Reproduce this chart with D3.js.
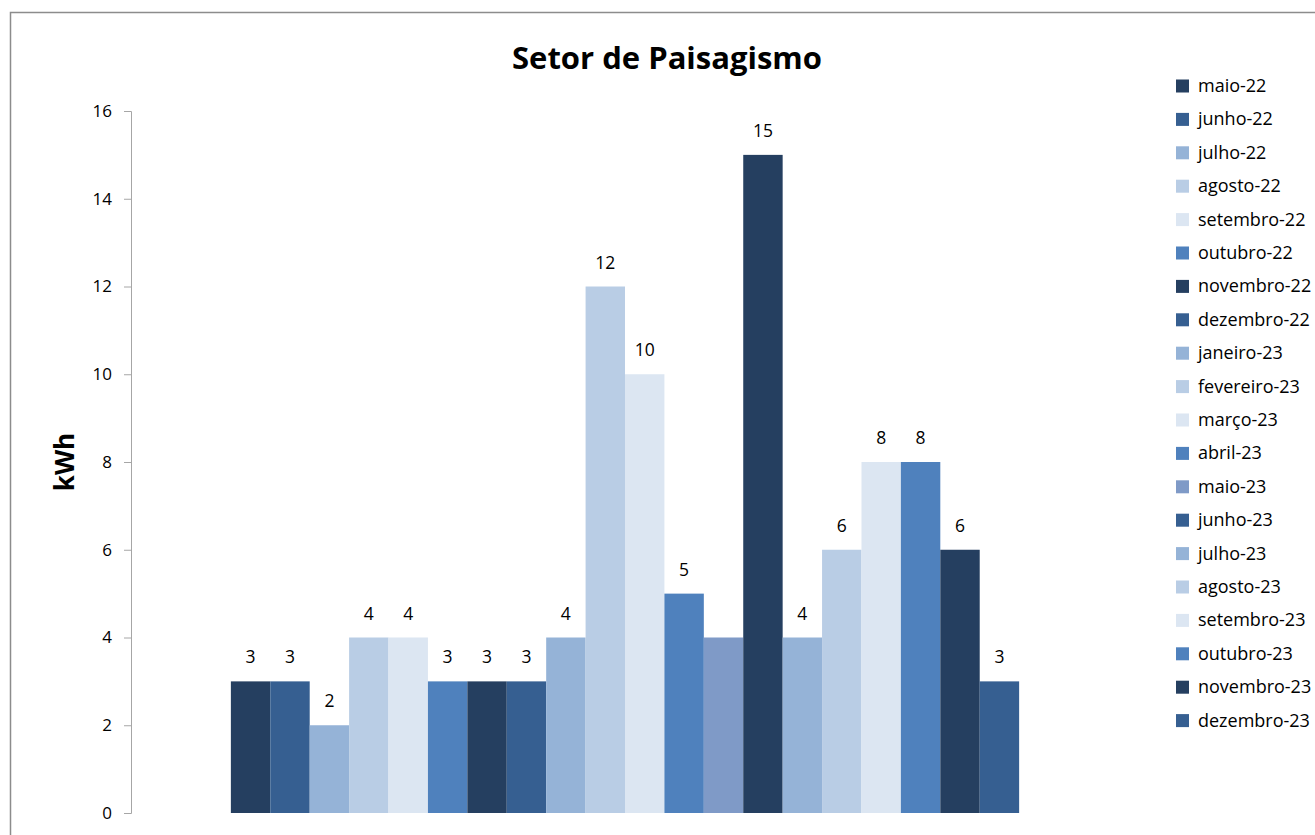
<!DOCTYPE html>
<html>
<head>
<meta charset="utf-8">
<script src="https://cdn.jsdelivr.net/npm/d3@7"></script>
<style>
  body { margin: 0; background: #fff; }
  svg { display: block; font-family: "Open Sans", sans-serif; }
</style>
</head>
<body>
<div id="chart"></div>
<script>
// chart data
const months = ['maio-22', 'junho-22', 'julho-22', 'agosto-22', 'setembro-22', 'outubro-22',
  'novembro-22', 'dezembro-22', 'janeiro-23', 'fevereiro-23', 'março-23', 'abril-23',
  'maio-23', 'junho-23', 'julho-23', 'agosto-23', 'setembro-23', 'outubro-23',
  'novembro-23', 'dezembro-23'];
const values = [3, 3, 2, 4, 4, 3, 3, 3, 4, 12, 10, 5, 4, 15, 4, 6, 8, 8, 6, 3];
// maio-23 has no label in the original
const showLabel = [1, 1, 1, 1, 1, 1, 1, 1, 1, 1, 1, 1, 0, 1, 1, 1, 1, 1, 1, 1];
const yTicks = [0, 2, 4, 6, 8, 10, 12, 14, 16];

const navy = '#253f60', blue = '#365f91', light = '#95b3d7', lighter = '#b9cde5',
  vlight = '#dce6f2', medium = '#4f81bd', grey = '#7f9ac7';
const legendColors = [navy, blue, light, lighter, vlight, medium, navy, blue, light, lighter,
  vlight, medium, grey, blue, light, lighter, vlight, medium, navy, blue];
const barColors = legendColors.slice();
barColors[13] = navy;

const W = 1315, H = 835;
const plotLeft = 131, plotRight = 1119, plotTop = 111, plotBottom = 813;

const rows = months.map((m, i) => ({ month: m, value: values[i], bar: barColors[i], label: showLabel[i] }));

const svg = d3.select('#chart').append('svg')
  .attr('width', W)
  .attr('height', H);

// outer frame (runs off the picture on the right and bottom)
svg.append('rect')
  .attr('x', 10.5).attr('y', 12.5)
  .attr('width', W + 20).attr('height', H + 20)
  .attr('fill', 'none')
  .attr('stroke', '#8c8c8c')
  .attr('stroke-width', 1.5);

const y = d3.scaleLinear().domain([0, 16]).range([plotBottom, plotTop]);

const x0 = d3.scaleBand()
  .domain(['Setor de Paisagismo'])
  .range([plotLeft, plotRight])
  .paddingInner(0)
  .paddingOuter(0.1267);

const x1 = d3.scaleBand()
  .domain(months)
  .range([0, x0.bandwidth()]);

// y axis
const yAxis = svg.append('g')
  .attr('transform', 'translate(' + plotLeft + ',0)')
  .call(d3.axisLeft(y).tickValues(yTicks).tickSize(7).tickPadding(12));
yAxis.select('.domain').attr('stroke', '#a6a6a6');
yAxis.selectAll('.tick line').attr('stroke', '#a6a6a6');
yAxis.selectAll('text')
  .attr('font-size', '17px')
  .attr('fill', '#000')
  .style('font-family', '"Open Sans", sans-serif');

// bars
const g = svg.append('g')
  .attr('transform', 'translate(' + x0('Setor de Paisagismo') + ',0)');

g.selectAll('rect.bar')
  .data(rows)
  .enter()
  .append('rect')
  .attr('class', 'bar')
  .attr('x', d => x1(d.month))
  .attr('y', d => y(d.value))
  .attr('width', x1.bandwidth())
  .attr('height', d => y(0) - y(d.value))
  .attr('fill', d => d.bar);

// value labels
g.selectAll('text.val')
  .data(rows.filter(d => d.label))
  .enter()
  .append('text')
  .attr('class', 'val')
  .attr('text-anchor', 'middle')
  .attr('x', d => x1(d.month) + x1.bandwidth() / 2)
  .attr('y', d => y(d.value) - 18)
  .attr('font-size', '17.5px')
  .text(d => d.value);

// title
svg.append('text')
  .attr('x', 667)
  .attr('y', 69)
  .attr('text-anchor', 'middle')
  .attr('font-size', '31px')
  .attr('font-weight', 'bold')
  .text('Setor de Paisagismo');

// y axis title
svg.append('text')
  .attr('transform', 'translate(74,' + ((plotTop + plotBottom) / 2) + ') rotate(-90)')
  .attr('text-anchor', 'middle')
  .attr('font-size', '26px')
  .attr('font-weight', 'bold')
  .text('kWh');

// legend
const legend = svg.append('g');
const item = legend.selectAll('g')
  .data(months)
  .enter()
  .append('g')
  .attr('transform', (d, i) => 'translate(1176,' + (86 + i * 33.4) + ')');

item.append('rect')
  .attr('x', 0).attr('y', -6.5)
  .attr('width', 13).attr('height', 13)
  .attr('fill', (d, i) => legendColors[i]);

item.append('text')
  .attr('x', 22)
  .attr('y', 6)
  .attr('font-size', '18px')
  .text(d => d);
</script>
</body>
</html>
